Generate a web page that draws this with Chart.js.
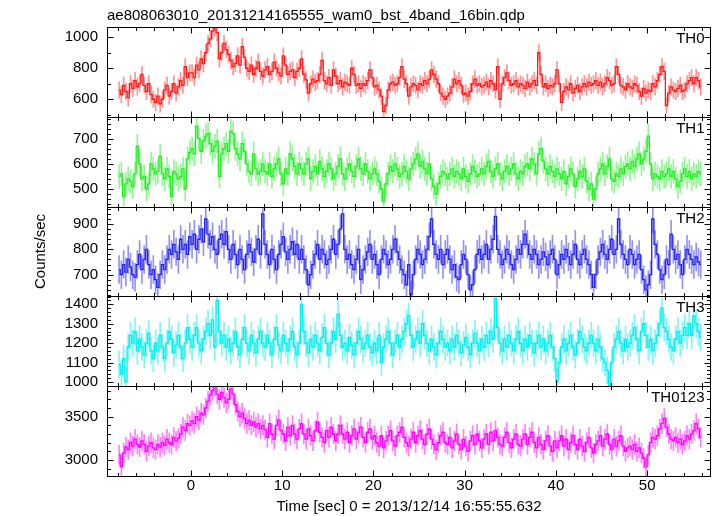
<!DOCTYPE html>
<html>
<head>
<meta charset="utf-8">
<script src="https://cdn.jsdelivr.net/npm/chart.js@4.4.1/dist/chart.umd.min.js"></script>
<style>
  html, body { margin: 0; padding: 0; background: #fff; }
</style>
</head>
<body>
<canvas id="lc" width="717" height="516"></canvas>
<script>
// light curves, 0.25 s bins, counts/sec per band
const fileTitle = 'ae808063010_20131214165555_wam0_bst_4band_16bin.qdp';
const xTitle = 'Time [sec] 0 = 2013/12/14 16:55:55.632';
const yTitle = 'Counts/sec';
const panelNames = ['TH0', 'TH1', 'TH2', 'TH3', 'TH0123'];
const binStart = -7.875;
const binSize = 0.25;

const th0 = [
  660, 630, 690, 650, 610, 700, 670, 720, 680, 700, 760, 690, 650, 700, 630, 600,
  580, 620, 570, 600, 660, 690, 620, 650, 700, 640, 680, 720, 690, 810, 740, 770,
  770, 740, 820, 790, 860, 830, 900, 960, 990, 1040, 1060, 1030, 860, 900, 960, 920,
  890, 850, 810, 830, 880, 820, 940, 870, 800, 780, 820, 760, 800, 840, 780, 750,
  790, 810, 760, 780, 840, 800, 770, 750, 880, 820, 760, 780, 790, 740, 780, 800,
  860, 760, 725, 640, 700, 730, 710, 720, 760, 850, 720, 700, 740, 690, 790, 750,
  700, 720, 680, 710, 700, 690, 800, 760, 690, 700, 670, 700, 690, 720, 790, 740,
  680, 690, 660, 620, 520, 560, 660, 700, 710, 690, 700, 740, 810, 730, 700, 620,
  680, 700, 690, 660, 700, 690, 720, 700, 730, 790, 760, 730, 700, 640, 620, 600,
  620, 640, 680, 730, 700, 720, 690, 630, 640, 620, 650, 700, 730, 690, 700, 680,
  690, 710, 680, 720, 700, 660, 810, 600, 700, 740, 770, 720, 690, 700, 720, 680,
  700, 690, 670, 710, 680, 700, 720, 690, 900, 760, 680, 700, 670, 690, 680, 700,
  790, 700, 580, 650, 680, 660, 700, 640, 670, 690, 650, 680, 700, 680, 710, 690,
  700, 720, 690, 710, 680, 700, 740, 720, 690, 700, 810, 760, 690, 680, 660, 700,
  680, 670, 700, 690, 650, 620, 670, 640, 660, 650, 700, 680, 720, 760, 810, 780,
  560, 640, 680, 660, 650, 670, 690, 650, 660, 700, 720, 740, 700, 740, 720, 680
];
const th1 = [
  550, 560, 470, 520, 540, 530, 510, 560, 670, 600, 540, 550, 500, 520, 600, 580,
  560, 570, 630, 560, 540, 580, 550, 470, 570, 560, 540, 550, 580, 500, 620, 645,
  660, 640, 750, 700, 650, 690, 710, 720, 680, 650, 670, 690, 550, 640, 660, 680,
  650, 730, 720, 660, 640, 620, 680, 650, 600, 570, 560, 640, 580, 560, 570, 600,
  570, 560, 600, 550, 580, 600, 620, 560, 520, 580, 560, 640, 620, 590, 560, 600,
  580, 560, 600, 620, 540, 570, 590, 560, 610, 580, 550, 570, 600, 580, 540, 560,
  590, 620, 560, 540, 580, 600, 570, 550, 590, 620, 580, 560, 600, 570, 540, 560,
  580, 560, 530, 500, 450, 520, 560, 590, 570, 600, 580, 550, 560, 590, 570, 540,
  580, 600, 620, 640, 590, 610, 580, 560, 600, 540, 510, 480, 520, 550, 570, 560,
  540, 560, 580, 550, 570, 560, 540, 580, 550, 530, 560, 590, 570, 550, 560, 580,
  560, 590, 610, 570, 550, 580, 600, 560, 540, 570, 590, 560, 580, 600, 560, 540,
  570, 560, 590, 600, 580, 620, 600, 560, 640, 660, 610, 580, 560, 590, 570, 550,
  580, 560, 540, 570, 520, 550, 580, 560, 510, 540, 570, 550, 580, 530, 500, 520,
  460, 500, 560, 580, 600, 560, 590, 620, 540, 530, 560, 550, 580, 560, 590, 600,
  580, 610, 590, 620, 640, 600, 620, 650, 710, 600, 540, 560, 550, 540, 570, 550,
  560, 580, 550, 570, 540, 510, 530, 560, 580, 550, 570, 540, 560, 550, 570, 560
];
const th2 = [
  720, 700, 740, 710, 760, 730, 700, 690, 740, 780, 720, 760, 800, 740, 700, 720,
  680, 650, 700, 740, 720, 760, 800, 780, 820, 790, 760, 840, 800, 820, 780, 850,
  820, 860, 800, 840, 880, 830, 920, 860, 820, 850, 800, 780, 840, 860, 820, 870,
  800, 760, 820, 780, 740, 800, 760, 720, 780, 820, 790, 750, 800, 840, 780, 940,
  820, 780, 740, 800, 760, 720, 780, 820, 850, 790, 760, 800, 830, 780, 820, 760,
  800, 760, 720, 660, 700, 740, 780, 820, 760, 800, 780, 740, 760, 800, 840, 780,
  820, 880, 940, 800, 760, 780, 740, 720, 760, 800, 680, 720, 760, 790, 820, 760,
  780, 740, 700, 760, 800, 780, 740, 760, 800, 840, 790, 760, 720, 700, 660, 740,
  620, 700, 760, 800, 780, 740, 760, 800, 850, 920, 820, 780, 760, 800, 740, 780,
  800, 760, 720, 740, 690, 680, 740, 780, 760, 700, 640, 660, 720, 780, 800, 760,
  780, 820, 760, 800, 840, 930, 800, 780, 740, 760, 800, 780, 740, 720, 760, 800,
  780, 820, 860, 820, 780, 760, 800, 780, 740, 760, 790, 770, 740, 780, 800, 760,
  700, 740, 780, 760, 800, 770, 740, 780, 820, 760, 740, 780, 800, 760, 740, 700,
  650, 700, 760, 790, 820, 780, 760, 800, 840, 780, 800, 920, 820, 780, 760, 740,
  800, 780, 740, 760, 780, 720, 680, 640, 660, 700, 920, 820, 780, 720, 680, 700,
  760, 740, 860, 800, 760, 780, 740, 700, 760, 800, 780, 760, 740, 770, 750, 740
];
const th3 = [
  1090, 1040, 1120, 1000, 1180, 1240, 1200, 1260, 1160, 1220, 1180, 1140, 1200, 1250, 1160, 1120,
  1200, 1160, 1240, 1180, 1120, 1200, 1260, 1220, 1150, 1190, 1240, 1180, 1120, 1200, 1280, 1220,
  1180, 1240, 1280, 1200, 1160, 1220, 1260, 1300, 1240, 1320, 1180, 1420, 1260, 1200, 1240, 1180,
  1220, 1160, 1200, 1260, 1180, 1140, 1220, 1280, 1200, 1160, 1240, 1200, 1150, 1220, 1260, 1200,
  1180, 1240, 1200, 1140, 1220, 1280, 1190, 1160, 1240, 1200, 1160, 1220, 1260, 1180, 1140, 1200,
  1400, 1260, 1200, 1150, 1220, 1180, 1240, 1200, 1160, 1230, 1280, 1200, 1140, 1200, 1260, 1220,
  1350, 1240, 1180, 1200, 1160, 1230, 1190, 1140, 1200, 1260, 1220, 1170, 1200, 1240, 1180, 1150,
  1200, 1160, 1240, 1100, 1180, 1220, 1260, 1200, 1140, 1200, 1240, 1180, 1220, 1260, 1300, 1340,
  1240, 1180, 1220, 1260, 1200, 1300, 1240, 1200, 1160, 1220, 1180, 1140, 1200, 1260, 1220, 1180,
  1200, 1160, 1220, 1180, 1240, 1200, 1150, 1190, 1230, 1180, 1140, 1200, 1250, 1200, 1160, 1220,
  1180, 1240, 1200, 1260, 1220, 1430, 1280, 1200, 1160, 1220, 1180, 1240, 1200, 1160, 1220, 1260,
  1200, 1160, 1220, 1180, 1240, 1200, 1150, 1200, 1240, 1180, 1220, 1160, 1200, 1240, 1180, 1120,
  1000, 1100, 1180, 1220, 1160, 1200, 1240, 1180, 1140, 1200, 1260, 1220, 1180, 1160, 1200, 1240,
  1200, 1160, 1220, 1180, 1120, 1100, 1060, 980, 1100, 1180, 1220, 1260, 1200, 1160, 1220, 1180,
  1200, 1240, 1280, 1220, 1160, 1260, 1300, 1240, 1180, 1220, 1160, 1200, 1240, 1300, 1380, 1280,
  1260, 1220, 1180, 1160, 1220, 1260, 1200, 1240, 1280, 1240, 1300, 1240, 1340, 1300, 1260, 1230
];
const th0123 = [
  3060, 2920, 3080, 3150, 3120, 3200, 3160, 3240, 3180, 3150, 3220, 3180, 3100, 3160, 3200, 3140,
  3120, 3180, 3150, 3200, 3170, 3240, 3200, 3180, 3260, 3220, 3250, 3300, 3380, 3340, 3420, 3400,
  3450, 3420, 3500, 3460, 3540, 3520, 3600, 3680, 3750, 3800, 3850, 3760, 3700, 3780, 3720, 3660,
  3700, 3820, 3760, 3640, 3560, 3500, 3540, 3480, 3420, 3460, 3400, 3440, 3380, 3420, 3360, 3400,
  3350, 3260, 3420, 3300, 3240, 3400, 3460, 3340, 3300, 3220, 3380, 3280, 3400, 3300, 3240, 3360,
  3420, 3300, 3240, 3360, 3280, 3220, 3340, 3440, 3320, 3260, 3200, 3340, 3260, 3380, 3300, 3220,
  3300, 3400, 3300, 3240, 3320, 3200, 3280, 3360, 3240, 3320, 3380, 3260, 3200, 3320, 3360, 3240,
  3280, 3200, 3160, 3280, 3140, 3220, 3280, 3340, 3220, 3160, 3280, 3320, 3380, 3260, 3200, 3160,
  3240, 3320, 3200, 3280, 3340, 3240, 3180, 3300, 3360, 3240, 3180, 3120, 3200, 3280, 3320, 3200,
  3180, 3260, 3140, 3220, 3300, 3180, 3120, 3240, 3160, 3100, 3220, 3280, 3180, 3300, 3220, 3140,
  3240, 3300, 3180, 3320, 3220, 3340, 3260, 3180, 3160, 3260, 3320, 3200, 3140, 3240, 3300, 3180,
  3160, 3240, 3300, 3180, 3260, 3320, 3200, 3140, 3260, 3180, 3120, 3220, 3280, 3160, 3100, 3220,
  3140, 3220, 3280, 3160, 3240, 3120, 3200, 3280, 3180, 3120, 3240, 3160, 3100, 3200, 3260, 3140,
  3080, 3180, 3220, 3280, 3160, 3240, 3300, 3180, 3120, 3240, 3160, 3220, 3280, 3160, 3100, 3140,
  3160, 3120, 3180, 3100, 3140, 3080, 3020, 2920, 3060, 3200, 3260, 3240, 3280, 3360, 3420, 3480,
  3380, 3300, 3240, 3220, 3260, 3200, 3240, 3180, 3220, 3280, 3240, 3300, 3340, 3420, 3360, 3260
];
const series = [th0, th1, th2, th3, th0123];
// typical 1-sigma error per band
const errors = [53, 47, 55, 69, 113];

// axis ranges and tick steps
const yMin = [487, 430, 614, 978, 2815];
const yMax = [1066, 787, 969, 1441, 3852];
const yMajor = [200, 100, 100, 100, 500];
const yMinor = [100, 20, 20, 20, 100];
const xMin = -9.2, xMax = 57.0, xMajor = 10, xMinor = 2;

const lineColors = ['#ff1a1a', '#22ee22', '#2424ee', '#00eeee', '#ff00ff'];
const errColors = ['rgba(255,40,40,0.5)', 'rgba(40,235,40,0.5)', 'rgba(40,40,235,0.5)',
                   'rgba(0,235,235,0.5)', 'rgba(255,0,255,0.5)'];

const font = { family: "'Liberation Sans', Arial, sans-serif", size: 15 };

const datasets = [];
series.forEach((vals, i) => {
  const pts = vals.map((v, k) => ({ x: binStart + k * binSize, y: v }));
  datasets.push({
    type: 'line', label: panelNames[i], yAxisID: 'y' + i, data: pts,
    borderColor: lineColors[i], borderWidth: 1.3, pointRadius: 0,
    stepped: 'middle', order: 1
  });
  datasets.push({
    type: 'bar', label: panelNames[i] + ' err', yAxisID: 'y' + i,
    data: vals.map((v, k) => ({ x: binStart + k * binSize, y: [v - errors[i], v + errors[i]] })),
    backgroundColor: errColors[i], barThickness: 1, grouped: false, order: 2
  });
});

// ticks at plain multiples of the step, no auto-fitting
function stepTicks(scale, step) {
  const out = [];
  for (let v = Math.ceil(scale.min / step) * step; v <= scale.max; v += step) out.push({ value: v });
  scale.ticks = out;
}

const scales = {
  x: {
    type: 'linear', min: xMin, max: xMax, offset: false,
    grid: { display: false, drawTicks: false }, border: { display: false },
    ticks: { autoSkip: false, maxRotation: 0, padding: 1, color: '#000', font,
             callback: v => String(v) },
    afterBuildTicks(s) { stepTicks(s, xMajor); },
    title: { display: true, text: xTitle, color: '#000', font, padding: { top: 0, bottom: 0 } },
    afterFit(s) { s.height = 40; }
  }
};
for (let i = panelNames.length - 1; i >= 0; i--) {
  scales['y' + i] = {
    type: 'linear', position: 'left', stack: 'panels', stackWeight: 1,
    min: yMin[i], max: yMax[i],
    grid: { display: false, drawTicks: false }, border: { display: false },
    ticks: { autoSkip: false, padding: 9, color: '#000', font, callback: v => String(v) },
    afterBuildTicks(s) { stepTicks(s, yMajor[i]); },
    title: { display: i === 2, text: yTitle, color: '#000', font, padding: { top: 32, bottom: 0 } },
    afterFit(s) { s.width = 107; }
  };
}

// panel frames with inward ticks on all sides, per-panel clipping, band labels
const qdpFrame = {
  id: 'qdpFrame',
  beforeDatasetDraw(chart, args) {
    const ys = chart.scales[chart.data.datasets[args.index].yAxisID];
    const a = chart.chartArea;
    chart.ctx.save();
    chart.ctx.beginPath();
    chart.ctx.rect(a.left, ys.top, a.right - a.left, ys.bottom - ys.top);
    chart.ctx.clip();
  },
  afterDatasetDraw(chart) {
    chart.ctx.restore();
  },
  afterDraw(chart) {
    const ctx = chart.ctx;
    const a = chart.chartArea;
    const xs = chart.scales.x;
    const L = Math.round(a.left) + 0.5, R = Math.round(a.right) - 0.5;
    ctx.save();
    ctx.strokeStyle = '#000';
    ctx.lineWidth = 1;
    const seg = (x1, y1, x2, y2) => { ctx.beginPath(); ctx.moveTo(x1, y1); ctx.lineTo(x2, y2); ctx.stroke(); };
    panelNames.forEach((name, i) => {
      const ys = chart.scales['y' + i];
      const T = Math.round(ys.top) + 0.5, B = Math.round(ys.bottom) + 0.5;
      ctx.strokeRect(L, T, R - L, B - T);
      for (let v = Math.ceil(xMin / xMinor) * xMinor; v <= xMax; v += xMinor) {
        const px = Math.round(xs.getPixelForValue(v)) + 0.5;
        const len = Math.abs(v % xMajor) < 1e-6 ? 6 : 3.5;
        seg(px, T, px, T + len);
        seg(px, B, px, B - len);
      }
      for (let v = Math.ceil(yMin[i] / yMinor[i]) * yMinor[i]; v <= yMax[i]; v += yMinor[i]) {
        const py = Math.round(ys.getPixelForValue(v)) + 0.5;
        const len = v % yMajor[i] === 0 ? 6 : 3.5;
        seg(L, py, L + len, py);
        seg(R, py, R - len, py);
      }
      ctx.fillStyle = '#000';
      ctx.font = font.size + 'px ' + font.family;
      ctx.textAlign = 'right';
      ctx.textBaseline = 'top';
      ctx.fillText(name, R - 6, T + 4);
    });
    ctx.restore();
  }
};

new Chart(document.getElementById('lc'), {
  type: 'line',
  data: { datasets },
  options: {
    responsive: false,
    animation: false,
    layout: { padding: { left: 0, right: 6, top: 0, bottom: 0 } },
    plugins: {
      legend: { display: false },
      tooltip: { enabled: false },
      title: { display: true, text: fileTitle, align: 'start', fullSize: false, color: '#000',
               font: { ...font, weight: 'normal' }, padding: { top: 7, bottom: 2 } }
    },
    scales
  },
  plugins: [qdpFrame]
});
</script>
</body>
</html>
